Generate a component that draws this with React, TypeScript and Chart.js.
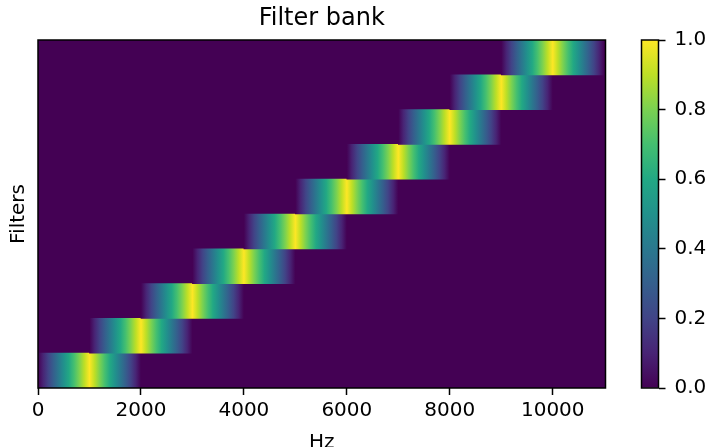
import React, { useEffect, useRef } from 'react';
import { Chart, registerables } from 'chart.js';

Chart.register(...registerables);

// Triangular filters: each rises from its lower edge to its centre and falls to its upper edge.
const filterNames = ['1', '2', '3', '4', '5', '6', '7', '8', '9', '10'];
const lowerEdgeHz = [0, 1000, 2000, 3000, 4000, 5000, 6000, 7000, 8000, 9000];
const centerHz = [1000, 2000, 3000, 4000, 5000, 6000, 7000, 8000, 9000, 10000];
const upperEdgeHz = [2000, 3000, 4000, 5000, 6000, 7000, 8000, 9000, 10000, 11000];
const nyquistHz = 11025;
const hzTicks = [0, 2000, 4000, 6000, 8000, 10000];

// Colour bar range and ticks
const gainRange = [0, 1];
const gainTicks = [0, 0.2, 0.4, 0.6, 0.8, 1.0];

const FONT = 'DejaVu Sans';
const VIRIDIS = [
  '#440154', '#482475', '#414487', '#355f8d', '#2a788e', '#21918c',
  '#22a884', '#44bf70', '#7ad151', '#bddf26', '#fde725',
];

const finite = (...v: number[]) => v.every(Number.isFinite);

// Linear ramp through viridis from (x0,y0) to (x1,y1)
function viridisRamp(ctx: CanvasRenderingContext2D, x0: number, y0: number, x1: number, y1: number) {
  if (!finite(x0, y0, x1, y1)) return VIRIDIS[0];
  const g = ctx.createLinearGradient(x0, y0, x1, y1);
  VIRIDIS.forEach((c, i) => g.addColorStop(i / (VIRIDIS.length - 1), c));
  return g;
}

// Triangle: 0 at the edges, 1 at the peak, coloured through viridis
function viridisTriangle(ctx: CanvasRenderingContext2D, xLo: number, xPeak: number, xHi: number) {
  if (!finite(xLo, xPeak, xHi) || xHi <= xLo) return VIRIDIS[0];
  const g = ctx.createLinearGradient(xLo, 0, xHi, 0);
  const p = (xPeak - xLo) / (xHi - xLo);
  const n = VIRIDIS.length - 1;
  VIRIDIS.forEach((c, i) => {
    g.addColorStop((i / n) * p, c);
    g.addColorStop(1 - (i / n) * (1 - p), c);
  });
  return g;
}

const framePlugin = {
  id: 'frame',
  beforeDatasetsDraw(chart: any, _args: any, opts: any) {
    if (!opts.fill) return;
    const { ctx, chartArea: a } = chart;
    ctx.save();
    ctx.fillStyle = opts.fill;
    ctx.fillRect(a.left, a.top, a.right - a.left, a.bottom - a.top);
    ctx.restore();
  },
  afterDraw(chart: any) {
    const { ctx, chartArea: a } = chart;
    ctx.save();
    ctx.strokeStyle = '#000';
    ctx.lineWidth = 1.5;
    ctx.strokeRect(a.left, a.top, a.right - a.left, a.bottom - a.top);
    ctx.restore();
  },
};

export default function App() {
  const mainRef = useRef<HTMLCanvasElement>(null);
  const barRef = useRef<HTMLCanvasElement>(null);

  useEffect(() => {
    const tickFont = { family: FONT, size: 20, weight: 'normal' as const };

    const main = new Chart(mainRef.current!, {
      type: 'bar',
      data: {
        labels: filterNames,
        datasets: [
          {
            label: 'filters',
            data: filterNames.map((_, i) => [lowerEdgeHz[i], upperEdgeHz[i]]) as any,
            backgroundColor: (c: any) => {
              const x = c.chart.scales.x;
              if (!x || c.type !== 'data') return VIRIDIS[0];
              const i = c.dataIndex;
              return viridisTriangle(
                c.chart.ctx,
                x.getPixelForValue(lowerEdgeHz[i]),
                x.getPixelForValue(centerHz[i]),
                x.getPixelForValue(upperEdgeHz[i]),
              );
            },
          },
        ],
      },
      options: {
        indexAxis: 'y',
        responsive: false,
        animation: false,
        layout: { padding: { top: 0, right: 103.5, bottom: 0, left: 0 } },
        datasets: {
          bar: { barPercentage: 1, categoryPercentage: 1, borderWidth: 0 },
        },
        plugins: {
          legend: { display: false },
          tooltip: { enabled: false },
          title: {
            display: true,
            text: 'Filter bank',
            fullSize: false,
            color: '#000',
            font: { family: FONT, size: 24, weight: 'normal', lineHeight: 1.2 },
            padding: { top: 4, bottom: 7.2 },
          },
          frame: { fill: VIRIDIS[0] },
        } as any,
        scales: {
          x: {
            type: 'linear',
            min: 0,
            max: nyquistHz,
            afterBuildTicks: (s: any) => { s.ticks = hzTicks.map((value) => ({ value })); },
            ticks: {
              autoSkip: false,
              maxRotation: 0,
              padding: 4,
              color: '#000',
              font: tickFont,
              callback: (v: any) => String(v),
            },
            grid: { drawOnChartArea: false, drawTicks: true, tickLength: 7, tickWidth: 1.5, tickColor: '#000' },
            border: { display: false },
            title: {
              display: true,
              text: 'Hz',
              color: '#000',
              font: { family: FONT, size: 20, lineHeight: 0.4 },
              padding: 0,
            },
            afterFit: (s: any) => { s.height = 59; },
          },
          y: {
            type: 'category',
            reverse: true,
            ticks: { display: false },
            grid: { display: false },
            border: { display: false },
            title: {
              display: true,
              text: 'Filters',
              color: '#000',
              font: { family: FONT, size: 20, lineHeight: 1.2 },
              padding: { top: 7, bottom: 0 },
            },
            afterFit: (s: any) => { s.width = 38; },
          },
        },
      },
      plugins: [framePlugin],
    });

    const bar = new Chart(barRef.current!, {
      type: 'bar',
      data: {
        labels: [''],
        datasets: [
          {
            data: [gainRange] as any,
            barPercentage: 1,
            categoryPercentage: 1,
            borderWidth: 0,
            backgroundColor: (c: any) => {
              const y = c.chart.scales.y;
              if (!y) return VIRIDIS[0];
              return viridisRamp(c.chart.ctx, 0, y.getPixelForValue(gainRange[0]), 0, y.getPixelForValue(gainRange[1]));
            },
          },
        ],
      },
      options: {
        responsive: false,
        animation: false,
        layout: { padding: { top: 40, right: 0, bottom: 59, left: 11.5 } },
        plugins: { legend: { display: false }, tooltip: { enabled: false } },
        scales: {
          x: { display: false },
          y: {
            position: 'right',
            min: gainRange[0],
            max: gainRange[1],
            afterBuildTicks: (s: any) => { s.ticks = gainTicks.map((value) => ({ value })); },
            ticks: {
              padding: 9,
              color: '#000',
              font: tickFont,
              callback: (v: any) => Number(v).toFixed(1),
            },
            grid: { drawOnChartArea: false, drawTicks: true, tickLength: 7, tickWidth: 1.5, tickColor: '#000' },
            border: { display: false },
            afterFit: (s: any) => { s.width = 50.5; },
          },
        },
      },
      plugins: [framePlugin],
    });

    // Second pass so the gradients are resolved against laid-out scales
    main.update();
    bar.update();

    return () => {
      main.destroy();
      bar.destroy();
    };
  }, []);

  return (
    <div style={{ position: 'fixed', left: 0, top: 0, width: 709, height: 447, background: '#fff', overflow: 'hidden' }}>
      <canvas ref={mainRef} width={709} height={447} style={{ position: 'absolute', left: 0, top: 0 }} />
      <canvas ref={barRef} width={79} height={447} style={{ position: 'absolute', left: 630, top: 0 }} />
    </div>
  );
}
